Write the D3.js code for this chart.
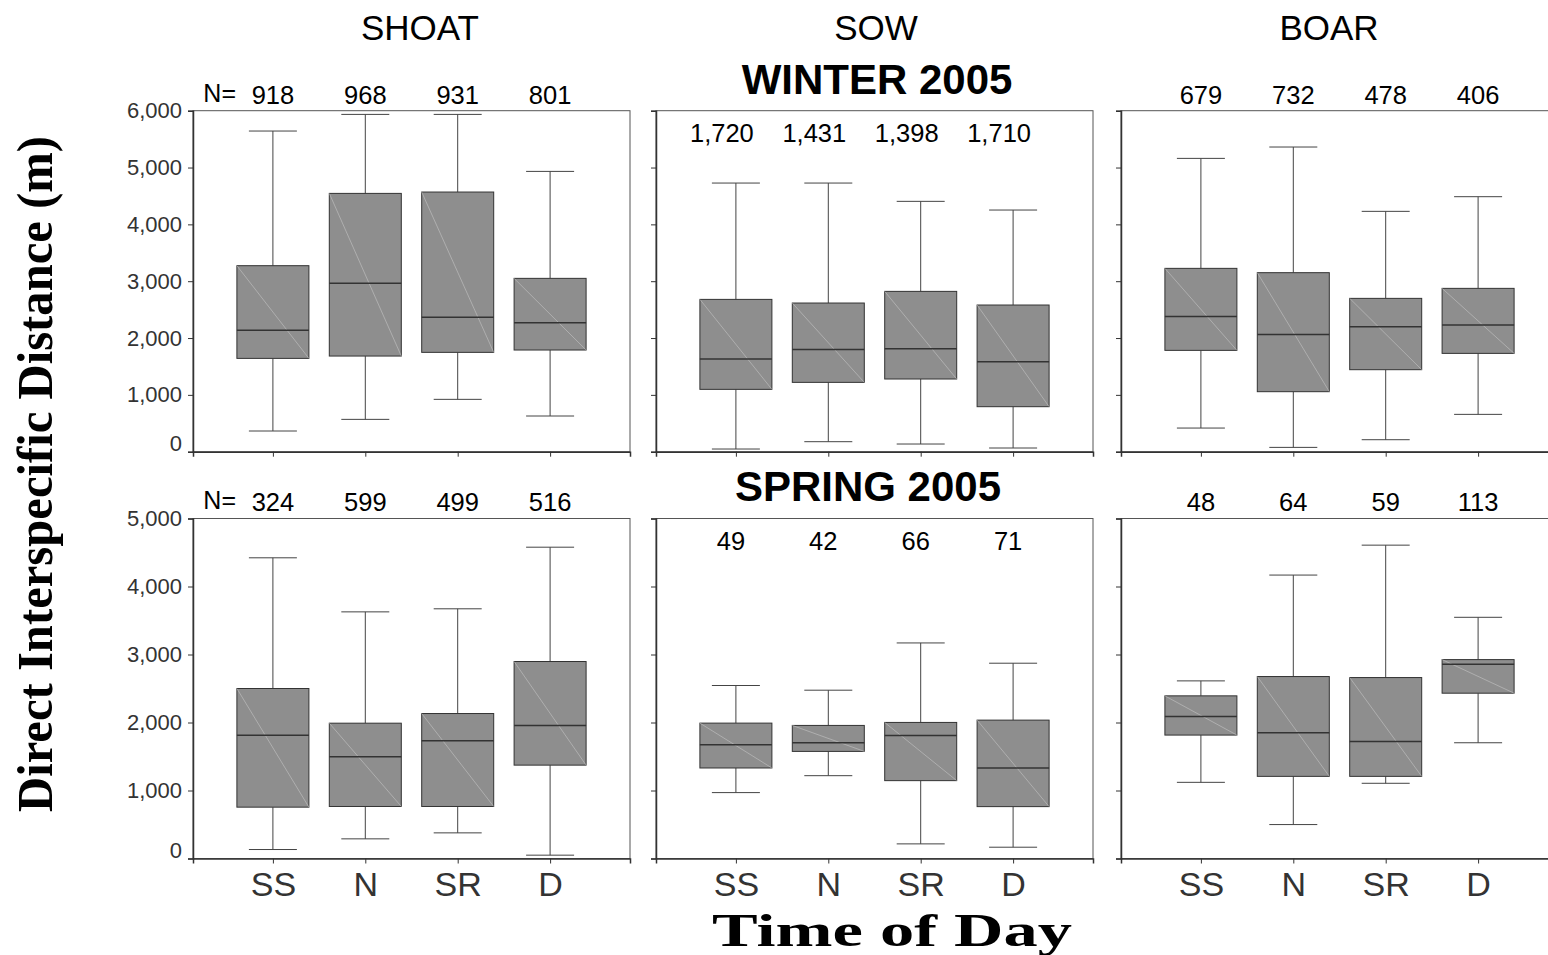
<!DOCTYPE html>
<html>
<head>
<meta charset="utf-8">
<script src="https://cdn.jsdelivr.net/npm/d3@7"></script>
<style>
  html, body { margin: 0; padding: 0; background: #fff; }
  svg { display: block; }
</style>
</head>
<body>
<svg id="chart" width="1548" height="955"></svg>
<script>
// ---------- DATA ----------
const categories = ["SS", "N", "SR", "D"];
const species = ["SHOAT", "SOW", "BOAR"];
const seasons = ["WINTER 2005", "SPRING 2005"];
const winterTicks = [0, 1000, 2000, 3000, 4000, 5000, 6000];
const springTicks = [0, 1000, 2000, 3000, 4000, 5000];

// per category: [lower whisker, Q1, median, Q3, upper whisker]
const winterShoatN = [918, 968, 931, 801];
const winterShoat = [[364, 1642, 2135, 3273, 5642], [569, 1683, 2962, 4545, 5935], [921, 1748, 2364, 4569, 5935], [628, 1789, 2270, 3050, 4932]];
const winterSowN = [1720, 1431, 1398, 1710];
const winterSow = [[47, 1097, 1630, 2680, 4727], [176, 1220, 1800, 2616, 4727], [135, 1279, 1812, 2821, 4405], [65, 792, 1584, 2581, 4252]];
const winterBoarN = [679, 732, 478, 406];
const winterBoar = [[416, 1783, 2381, 3226, 5161], [76, 1056, 2064, 3150, 5361], [211, 1443, 2199, 2698, 4229], [657, 1730, 2229, 2874, 4487]];

const springShoatN = [324, 599, 499, 516];
const springShoat = [[132, 755, 1814, 2500, 4422], [289, 765, 1495, 1990, 3627], [377, 765, 1730, 2132, 3672], [49, 1373, 1956, 2897, 4578]];
const springSowN = [49, 42, 66, 71];
const springSow = [[969, 1331, 1673, 1991, 2544], [1218, 1575, 1702, 1957, 2475], [215, 1145, 1810, 2001, 3170], [166, 763, 1331, 2035, 2872]];
const springBoarN = [48, 64, 59, 113];
const springBoar = [[1120, 1815, 2089, 2392, 2612], [499, 1208, 1849, 2676, 4168], [1106, 1208, 1722, 2661, 4608], [1702, 2431, 2857, 2925, 3547]];

// ---------- LAYOUT ----------
const svg = d3.select("#chart");
const colX = [193, 656, 1121];
const panelW = 437;
const rows = [
  { top: 110.7, bottom: 451.7, ticks: winterTicks, nBase: 104, nInside: 142, insideDx: -14,
    panels: [[winterShoat, winterShoatN], [winterSow, winterSowN], [winterBoar, winterBoarN]] },
  { top: 518.5, bottom: 858.5, ticks: springTicks, nBase: 511, nInside: 550, insideDx: -5,
    panels: [[springShoat, springShoatN], [springSow, springSowN], [springBoar, springBoarN]] }
];
const sectionTitleY = [94, 501];
const titleX = [420, 876, 1329];

const fmt = d3.format(",");
const sans = "'Liberation Sans', Arial, sans-serif";
const serif = "'Liberation Serif', 'Times New Roman', serif";

// column titles
svg.selectAll("text.col").data(species).join("text")
  .attr("class", "col")
  .attr("x", (d, i) => titleX[i]).attr("y", 40)
  .attr("text-anchor", "middle")
  .style("font-family", sans).style("font-size", "35px").attr("fill", "#000")
  .text(d => d);

// season titles
svg.selectAll("text.season").data(seasons).join("text")
  .attr("class", "season")
  .attr("x", (d, i) => i === 0 ? 877 : 868).attr("y", (d, i) => sectionTitleY[i])
  .attr("text-anchor", "middle")
  .style("font-family", sans).style("font-size", "42px").style("font-weight", "bold").attr("fill", "#000")
  .text(d => d);

rows.forEach((row, ri) => {
  const y = d3.scaleLinear().domain([0, d3.max(row.ticks)]).range([row.bottom, row.top]);
  row.panels.forEach(([stats, ns], ci) => {
    const x0 = colX[ci];
    const x = d3.scalePoint().domain(categories).range([x0, x0 + panelW]).padding(0.8647);
    const g = svg.append("g");

    g.append("rect")
      .attr("x", x0).attr("y", row.top).attr("width", panelW).attr("height", row.bottom - row.top)
      .attr("fill", "none").attr("stroke", "#555").attr("stroke-width", 1);

    const yAxis = d3.axisLeft(y).tickValues(row.ticks).tickSize(5).tickPadding(6)
      .tickFormat(ci === 0 ? fmt : () => "");
    const ya = g.append("g").attr("transform", `translate(${x0},0)`).call(yAxis);
    ya.select(".domain").attr("stroke", "#333").attr("stroke-width", 1.5);
    ya.selectAll(".tick line").attr("stroke", "#333");
    ya.selectAll(".tick text")
      .style("font-family", sans).style("font-size", "22px").attr("fill", "#333")
      .attr("dy", d => d === 0 ? "-0.05em" : "0.32em");

    const xAxis = d3.axisBottom(x).tickSize(5).tickPadding(8)
      .tickFormat(ri === 1 ? (d => d) : () => "");
    const xa = g.append("g").attr("transform", `translate(0,${row.bottom})`).call(xAxis);
    xa.select(".domain").attr("stroke", "#333").attr("stroke-width", 1.5);
    xa.selectAll(".tick line").attr("stroke", "#333");
    xa.selectAll(".tick text")
      .style("font-family", sans).style("font-size", "34px").attr("fill", "#333");

    const boxes = g.selectAll("g.box").data(categories.map((c, i) => ({ c, s: stats[i] }))).join("g").attr("class", "box");
    const bw = 36, cw = 24;
    boxes.append("line").attr("x1", d => x(d.c)).attr("x2", d => x(d.c))
      .attr("y1", d => y(d.s[4])).attr("y2", d => y(d.s[3])).attr("stroke", "#444").attr("stroke-width", 1);
    boxes.append("line").attr("x1", d => x(d.c)).attr("x2", d => x(d.c))
      .attr("y1", d => y(d.s[1])).attr("y2", d => y(d.s[0])).attr("stroke", "#444").attr("stroke-width", 1);
    boxes.append("line").attr("x1", d => x(d.c) - cw).attr("x2", d => x(d.c) + cw)
      .attr("y1", d => y(d.s[4])).attr("y2", d => y(d.s[4])).attr("stroke", "#444").attr("stroke-width", 1);
    boxes.append("line").attr("x1", d => x(d.c) - cw).attr("x2", d => x(d.c) + cw)
      .attr("y1", d => y(d.s[0])).attr("y2", d => y(d.s[0])).attr("stroke", "#444").attr("stroke-width", 1);
    boxes.append("rect")
      .attr("x", d => x(d.c) - bw).attr("width", bw * 2)
      .attr("y", d => y(d.s[3])).attr("height", d => y(d.s[1]) - y(d.s[3]))
      .attr("fill", "#8e8e8e").attr("stroke", "#333").attr("stroke-width", 1);
    boxes.append("line")
      .attr("x1", d => x(d.c) - bw).attr("y1", d => y(d.s[3]))
      .attr("x2", d => x(d.c) + bw).attr("y2", d => y(d.s[1]))
      .attr("stroke", "#c4c4c4").attr("stroke-width", 0.6);
    boxes.append("line")
      .attr("x1", d => x(d.c) - bw).attr("x2", d => x(d.c) + bw)
      .attr("y1", d => y(d.s[2])).attr("y2", d => y(d.s[2]))
      .attr("stroke", "#333").attr("stroke-width", 1.5);

    const ny = ci === 1 ? row.nInside : row.nBase;
    g.selectAll("text.n").data(categories.map((c, i) => ({ c, n: ns[i] }))).join("text")
      .attr("class", "n")
      .attr("x", d => x(d.c)).attr("y", ny)
      .attr("dx", ci === 1 ? row.insideDx : 0)
      .attr("text-anchor", "middle")
      .style("font-family", sans).style("font-size", "25.5px").attr("fill", "#000")
      .text(d => fmt(d.n));
    if (ci === 0) {
      g.append("text").attr("x", x0 + 43).attr("y", ny - 2).attr("text-anchor", "end")
        .style("font-family", sans).style("font-size", "25px").attr("fill", "#000").text("N=");
    }
  });
});

// axis titles
svg.append("text")
  .attr("transform", "translate(52,474) rotate(-90)")
  .attr("text-anchor", "middle")
  .attr("textLength", 676).attr("lengthAdjust", "spacingAndGlyphs")
  .style("font-family", serif).style("font-size", "50px").style("font-weight", "bold").attr("fill", "#000")
  .text("Direct Interspecific Distance (m)");

svg.append("text")
  .attr("x", 892).attr("y", 946)
  .attr("text-anchor", "middle")
  .attr("textLength", 360).attr("lengthAdjust", "spacingAndGlyphs")
  .style("font-family", serif).style("font-size", "47px").style("font-weight", "bold").attr("fill", "#000")
  .text("Time of Day");
</script>
</body>
</html>
